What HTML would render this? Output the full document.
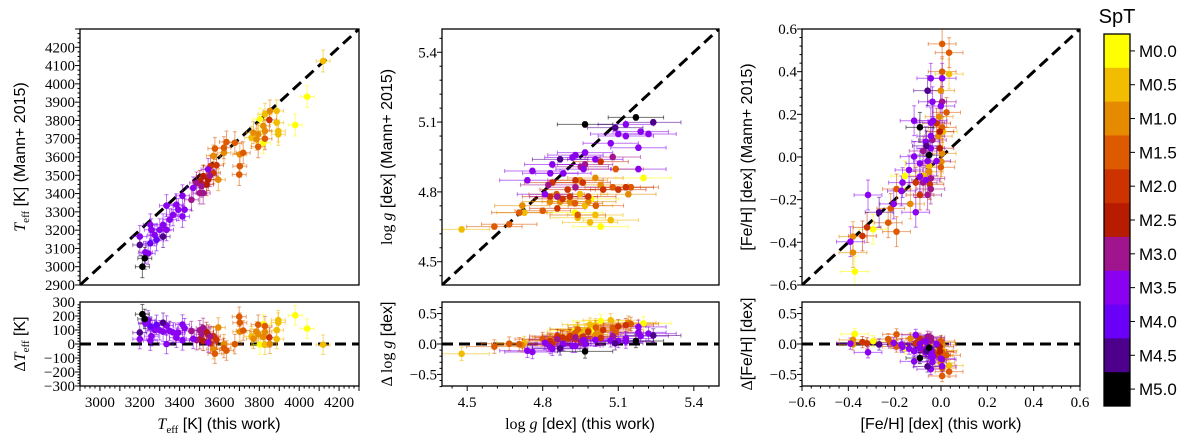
<!DOCTYPE html>
<html><head><meta charset="utf-8"><style>
html,body{margin:0;padding:0;background:#fff;}
svg{display:block;font-family:"Liberation Serif",serif;}
.sans{font-family:"Liberation Sans",sans-serif;}
</style></head><body>
<svg id="fig" width="1200" height="441" viewBox="0 0 1200 441" xmlns="http://www.w3.org/2000/svg"></svg>
<script>
// ---- Panel 1: Teff ----
const teffThis=[4120,4040,3980,3887,3887,3895,3895,3853,3850,3828,3803,3820,3828,3820,3828,3794,3786,3794,3761,3770,3719,3702,3702,3699,3677,3635,3622,3622,3577,3569,3594,3585,3555,3569,3543,3535,3518,3501,3510,3518,3501,3485,3543,3552,3468,3459,3414,3425,3414,3384,3393,3367,3334,3350,3317,3300,3334,3275,3284,3317,3258,3253,3200,3200,3242,3228,3253,3225,3213];
const teffMann=[4125,3930,3775,3852,3788,3742,3724,3852,3803,3834,3807,3770,3742,3678,3700,3724,3697,3656,3706,3733,3623,3614,3550,3504,3678,3682,3651,3623,3646,3606,3476,3555,3550,3513,3476,3449,3495,3467,3440,3403,3403,3458,3532,3498,3431,3366,3388,3312,3275,3339,3312,3284,3334,3257,3229,3202,3202,3174,3147,3165,3202,3229,3165,3119,3073,3079,3128,3046,3000];
const teffSpt=[0.5,0,0,0.5,0.5,0.5,0.5,1,2,0.5,0,1,1,0,1.5,1,1,1.5,0.5,1,1.5,1,1.5,1.5,1.5,1.5,1.5,1,1.5,1,1,2,2,2,2.5,2.5,2.5,2.5,3,3,3,3,3.5,3,3.5,3,3.5,3.5,3.5,3.5,3.5,3.5,3.5,3.5,3.5,3.5,3.5,3.5,4,4.5,3.5,3.5,3.5,4.5,3.5,3.5,4,5,5];
const teffXerr=35, teffYerr=60;
// ---- Panel 2: log g ----
const loggThis=[5.170,4.968,5.239,5.130,5.088,5.189,5.220,5.100,5.130,5.070,5.180,4.968,5.078,4.869,4.918,4.930,5.009,5.030,5.090,5.180,4.838,4.951,4.968,4.962,4.759,4.830,4.882,5.200,5.009,4.739,4.930,4.959,4.948,4.822,4.838,4.930,5.030,5.078,5.100,5.130,5.150,5.040,5.140,4.948,4.809,4.829,4.858,4.879,4.899,4.908,4.981,4.855,4.829,4.869,4.908,4.928,4.981,4.992,4.968,5.011,4.719,4.858,4.800,4.727,4.707,4.928,4.939,5.009,4.939,5.070,4.988,5.030,4.667,4.608,4.478];
const loggMann=[5.120,5.090,5.099,5.090,5.076,5.059,5.049,5.049,5.040,5.009,4.990,4.969,4.950,4.940,4.948,4.958,4.940,4.930,4.898,4.898,4.918,4.908,4.918,4.898,4.890,4.880,4.880,4.860,4.860,4.850,4.850,4.840,4.850,4.830,4.840,4.820,4.830,4.820,4.810,4.820,4.820,4.810,4.790,4.790,4.790,4.780,4.780,4.770,4.810,4.780,4.780,4.790,4.758,4.758,4.758,4.751,4.758,4.770,4.741,4.741,4.741,4.729,4.719,4.711,4.711,4.711,4.701,4.701,4.689,4.679,4.669,4.651,4.661,4.651,4.639];
const loggSpt=[5,5,4.5,3.5,4.5,3.5,3.5,3.5,3.5,3.5,3.5,3.5,3,4.5,3.5,3.5,3.5,2,1.5,3.5,3.5,3,3,3.5,3.5,3.5,3.5,0,1,3.5,2,2,1,3,2,3,1,1.5,2,2,1.5,2,1,0.5,3.5,2,3,2,2,2,2,1.5,1,1,1,1.5,1,0,0.5,1.5,1,2,1.5,0.5,1.5,0,1.5,0.5,0.5,0.5,0.5,0,1.5,1.5,0.5];
const loggXerr=0.11, loggYerr=0.012;
// ---- Panel 3: [Fe/H] ----
const fehThis=[0.005,0.035,0.005,0.035,-0.044,0.005,-0.058,-0.001,-0.037,0.005,-0.001,0.024,-0.008,-0.116,-0.034,-0.044,-0.019,-0.091,0.005,-0.005,0.009,-0.044,-0.012,-0.037,-0.066,-0.063,-0.044,-0.005,-0.077,-0.051,0.005,-0.116,-0.019,-0.058,0.002,-0.091,-0.051,-0.001,-0.138,-0.051,-0.156,-0.073,-0.091,-0.066,-0.044,-0.109,-0.077,-0.048,-0.166,-0.044,-0.192,-0.171,-0.091,-0.058,-0.315,-0.132,-0.204,-0.217,-0.109,-0.267,-0.228,-0.192,-0.293,-0.319,-0.339,-0.380,-0.391,-0.380,-0.372];
const fehMann=[0.530,0.489,0.400,0.389,0.369,0.369,0.311,0.311,0.259,0.259,0.239,0.209,0.189,0.170,0.170,0.161,0.158,0.139,0.139,0.119,0.119,0.098,0.098,0.080,0.072,0.052,0.041,0.041,0.028,0.009,0.017,0.002,-0.019,-0.019,-0.022,-0.030,-0.042,-0.048,-0.061,-0.069,-0.089,-0.089,-0.092,-0.108,-0.100,-0.120,-0.120,-0.128,-0.120,-0.150,-0.150,-0.159,-0.178,-0.178,-0.178,-0.220,-0.220,-0.241,-0.259,-0.259,-0.308,-0.350,-0.339,-0.330,-0.370,-0.373,-0.397,-0.448,-0.537];
const fehSpt=[1.5,1.5,1.5,0.5,3.5,3.5,4.5,1,3.5,3,3.5,1.5,1,3.5,3.5,3.5,2,5,1.5,2.5,0.5,3.5,1,3,3.5,4.5,3.5,2.5,3,5,1,3.5,3.5,3.5,1,3.5,0.5,1.5,3.5,1,0,0.5,3.5,3.5,3,2,3,2,3.5,3,1.5,3.5,2,3,3.5,1,3.5,1.5,3.5,4.5,1.5,1.5,0,2,2,1,3.5,1,0];
const fehXerr=0.06, fehYerr=0.07;
// ---- colorbar ----
const sptLabels=["M0.0","M0.5","M1.0","M1.5","M2.0","M2.5","M3.0","M3.5","M4.0","M4.5","M5.0"];
const sptColors=["#ffff00","#f2bc00","#e68a00","#dd5a00","#cc3300","#b71c00","#a0148e","#8a00f0","#6a00f8","#4c008c","#000000"];

const NS="http://www.w3.org/2000/svg";
const svg=document.getElementById('fig');
function mk(tag,attrs,parent){const e=document.createElementNS(NS,tag);for(const k in attrs)e.setAttribute(k,attrs[k]);(parent||svg).appendChild(e);return e;}
function col(s){return sptColors[Math.round(s*2)];}
function txt(x,y,s,attrs,parent){const t=mk('text',Object.assign({x:x,y:y},attrs),parent);t.textContent=s;return t;}

const TOP=[29,285], BOT=[302,386];
function panel(cfg){
  const g=mk('g',{});
  
  
  const [L,R]=cfg.px;
  const sx=v=>L+(v-cfg.xr[0])/(cfg.xr[1]-cfg.xr[0])*(R-L);
  const sy=v=>TOP[1]-(v-cfg.xr[0])/(cfg.xr[1]-cfg.xr[0])*(TOP[1]-TOP[0]);
  const sr=v=>(BOT[0]+BOT[1])/2-v/cfg.rr*(BOT[1]-BOT[0])/2;
  // clip
  const cid='c'+cfg.name;
  const d=mk('clipPath',{id:cid},g);mk('rect',{x:L,y:TOP[0],width:R-L,height:TOP[1]-TOP[0]},d);
  const cid2='b'+cfg.name;
  const d2=mk('clipPath',{id:cid2},g);mk('rect',{x:L,y:BOT[0],width:R-L,height:BOT[1]-BOT[0]},d2);
  const top=mk('g',{'clip-path':'url(#'+cid+')'},g);
  const bot=mk('g',{'clip-path':'url(#'+cid2+')'},g);
  // diagonal
  const diag=mk('line',{x1:sx(cfg.xr[0]),y1:sy(cfg.xr[0]),x2:sx(cfg.xr[1]),y2:sy(cfg.xr[1]),stroke:'#000','stroke-width':3,'stroke-dasharray':'11,6'},top);
  
  
  const zl=mk('line',{x1:L,y1:sr(0),x2:R,y2:sr(0),stroke:'#000','stroke-width':3,'stroke-dasharray':'11,6'},bot);
  
  
  const xs=cfg.x, ys=cfg.y, sp=cfg.s;
  function errs(parent,cx,cy,dx1,dx2,dy1,dy2,c){
    const e=mk('g',{stroke:c,'stroke-opacity':0.55,'stroke-width':1},parent);
    mk('line',{x1:dx1,y1:cy,x2:dx2,y2:cy},e);mk('line',{x1:cx,y1:dy1,x2:cx,y2:dy2},e);
    mk('line',{x1:dx1,y1:cy-2,x2:dx1,y2:cy+2},e);mk('line',{x1:dx2,y1:cy-2,x2:dx2,y2:cy+2},e);
    mk('line',{x1:cx-2,y1:dy1,x2:cx+2,y2:dy1},e);mk('line',{x1:cx-2,y1:dy2,x2:cx+2,y2:dy2},e);
  }
  const order=xs.map((_,i)=>i).sort((a,b)=>sp[a]-sp[b]);
  order.forEach(i=>{
    const c=col(sp[i]);
    errs(top,sx(xs[i]),sy(ys[i]),sx(xs[i]-cfg.xe),sx(xs[i]+cfg.xe),sy(ys[i]-cfg.ye),sy(ys[i]+cfg.ye),c);
    const r=xs[i]-ys[i];
    const re=Math.sqrt(cfg.xe*cfg.xe+cfg.ye*cfg.ye);
    errs(bot,sx(xs[i]),sr(r),sx(xs[i]-cfg.xe),sx(xs[i]+cfg.xe),sr(r-re),sr(r+re),c);
  });
  order.forEach(i=>{
    const c=col(sp[i]);
    const p=mk('circle',{cx:sx(xs[i]),cy:sy(ys[i]),r:3.3,fill:c},top);
    
    
    const q=mk('circle',{cx:sx(xs[i]),cy:sr(xs[i]-ys[i]),r:3.3,fill:c},bot);
    
    
  });
  // frames
  const f1=mk('rect',{x:L,y:TOP[0],width:R-L,height:TOP[1]-TOP[0],fill:'none',stroke:'#000','stroke-width':1.3},g);
  
  
  const f2=mk('rect',{x:L,y:BOT[0],width:R-L,height:BOT[1]-BOT[0],fill:'none',stroke:'#000','stroke-width':1.3},g);
  
  
  const tk=mk('g',{stroke:'#000','stroke-width':1},g);
  const eps=1e-9;
  // top y ticks
  for(let v=Math.ceil(cfg.xr[0]/cfg.minor-eps)*cfg.minor;v<=cfg.xr[1]+eps;v+=cfg.minor){
    const y=sy(v);const maj=Math.abs(Math.round(v/cfg.major)*cfg.major-v)<cfg.minor/10;
    mk('line',{x1:L,x2:L-(maj?5:2.5),y1:y,y2:y},tk);
    const x=sx(v);mk('line',{x1:x,x2:x,y1:BOT[1],y2:BOT[1]+(maj?5:2.5)},tk);
  }
  cfg.ylab.forEach(v=>{const t=txt(L-5,sy(v)+5,cfg.fmt(v),{'text-anchor':'end','font-size':15},g);});
  cfg.ylab.filter(v=>v>=cfg.xr[0]+eps||cfg.name!=='feh').forEach(()=>{});
  cfg.xlab.forEach(v=>{const t=txt(sx(v),BOT[1]+21,cfg.fmt(v),{'text-anchor':'middle','font-size':15},g);});
  for(let v=-cfg.rr+1e-9;v<=cfg.rr;v+=cfg.rminor){
    const vv=Math.round(v/cfg.rminor)*cfg.rminor;const y=sr(vv);
    const maj=Math.abs(Math.round(vv/cfg.rmajor)*cfg.rmajor-vv)<cfg.rminor/10;
    mk('line',{x1:L,x2:L-(maj?5:2.5),y1:y,y2:y},tk);
  }
  cfg.rlab.forEach(v=>{const t=txt(L-5,sr(v)+5,cfg.rfmt(v),{'text-anchor':'end','font-size':15},g);});
  return g;
}
const minus=s=>s.replace('-','\u2212');
panel({name:'teff',px:[80,359],xr:[2900,4300],rr:300,x:teffThis,y:teffMann,s:teffSpt,xe:teffXerr,ye:teffYerr,
  major:100,minor:25,ylab:[2900,3000,3100,3200,3300,3400,3500,3600,3700,3800,3900,4000,4100,4200],xlab:[3000,3200,3400,3600,3800,4000,4200],
  fmt:v=>String(v),rmajor:100,rminor:20,rlab:[-300,-200,-100,0,100,200,300],rfmt:v=>minus(String(v))});
panel({name:'logg',px:[442,719],xr:[4.4,5.5],rr:0.69,x:loggThis,y:loggMann,s:loggSpt,xe:loggXerr,ye:loggYerr,
  major:0.3,minor:0.06,ylab:[4.5,4.8,5.1,5.4],xlab:[4.5,4.8,5.1,5.4],fmt:v=>v.toFixed(1),
  rmajor:0.5,rminor:0.1,rlab:[-0.5,0,0.5],rfmt:v=>minus(v.toFixed(1))});
panel({name:'feh',px:[802,1080],xr:[-0.6,0.6],rr:0.69,x:fehThis,y:fehMann,s:fehSpt,xe:fehXerr,ye:fehYerr,
  major:0.2,minor:0.04,ylab:[-0.6,-0.4,-0.2,0,0.2,0.4,0.6],xlab:[-0.6,-0.4,-0.2,0,0.2,0.4,0.6],fmt:v=>minus(v.toFixed(1)),
  rmajor:0.5,rminor:0.1,rlab:[-0.5,0,0.5],rfmt:v=>minus(v.toFixed(1))});

// axis labels
function rlab(x,y,html,name){const t=mk('text',{x:0,y:0,transform:`translate(${x},${y}) rotate(-90)`,'text-anchor':'middle','font-size':16});t.innerHTML=html;}
rlab(25,157,'<tspan font-style="italic">T</tspan><tspan font-size="11" dy="4">eff</tspan><tspan dy="-4" font-family="Liberation Sans"> [K] (Mann+ 2015)</tspan>','teff-y-axis-title');
rlab(25,344,'<tspan>Δ</tspan><tspan font-style="italic">T</tspan><tspan font-size="11" dy="4">eff</tspan><tspan dy="-4" font-family="Liberation Sans"> [K]</tspan>','teff-residual-y-title');
rlab(392,157,'<tspan>log</tspan><tspan font-style="italic"> g</tspan><tspan font-family="Liberation Sans"> [dex] (Mann+ 2015)</tspan>','logg-y-axis-title');
rlab(392,344,'<tspan>Δ log</tspan><tspan font-style="italic"> g</tspan><tspan font-family="Liberation Sans"> [dex]</tspan>','logg-residual-y-title');
rlab(752,157,'<tspan font-family="Liberation Sans">[Fe/H] [dex] (Mann+ 2015)</tspan>','feh-y-axis-title');
rlab(752,344,'<tspan>Δ</tspan><tspan font-family="Liberation Sans">[Fe/H] [dex]</tspan>','feh-residual-y-title');
function xl(x,html,name){const t=mk('text',{x:x,y:429,'text-anchor':'middle','font-size':16});t.innerHTML=html;}
xl(219,'<tspan font-style="italic">T</tspan><tspan font-size="11" dy="4">eff</tspan><tspan dy="-4" font-family="Liberation Sans"> [K] (this work)</tspan>','teff-x-axis-title');
xl(580,'<tspan>log</tspan><tspan font-style="italic"> g</tspan><tspan font-family="Liberation Sans"> [dex] (this work)</tspan>','logg-x-axis-title');
xl(941,'<tspan font-family="Liberation Sans">[Fe/H] [dex] (this work)</tspan>','feh-x-axis-title');

// colorbar
const cb=mk('g',{});


const cbT=34,cbB=406,cbL=1104,cbW=26,segH=(cbB-cbT)/sptLabels.length;
sptLabels.forEach((s,i)=>{
  const r=mk('rect',{x:cbL,y:cbT+i*segH,width:cbW,height:segH+0.5,fill:sptColors[i]},cb);
  
  
  const yc=cbT+(i+0.5)*segH;
  mk('line',{x1:cbL+cbW,x2:cbL+cbW+5,y1:yc,y2:yc,stroke:'#000','stroke-width':1},cb);
  const t=txt(cbL+cbW+9,yc+6,s,{'font-size':17,'class':'sans'},cb);
  
  
});
mk('rect',{x:cbL,y:cbT,width:cbW,height:cbB-cbT,fill:'none',stroke:'#000','stroke-width':1.3},cb);
const ct=txt(1117,23,'SpT',{'font-size':20,'text-anchor':'middle','class':'sans'},cb);


</script>
</body></html>
